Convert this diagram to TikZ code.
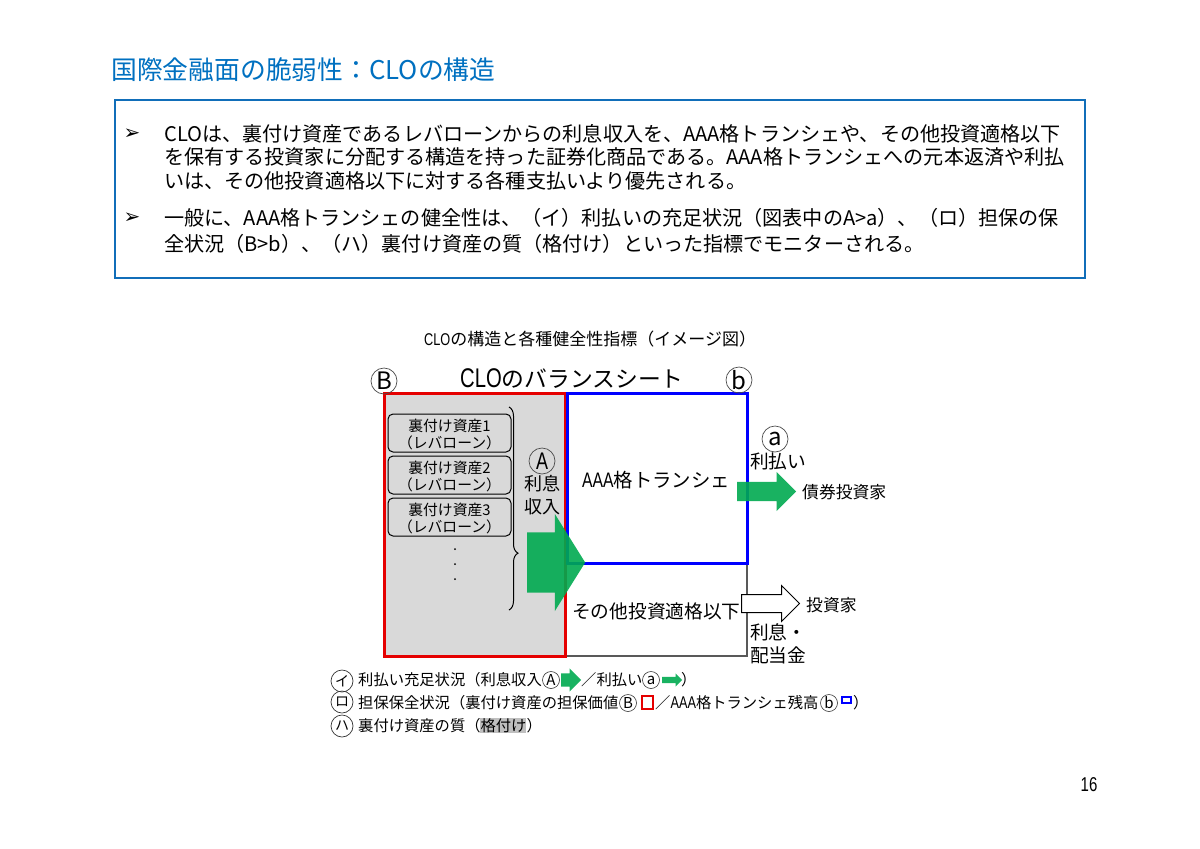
\documentclass[tikz,border=0pt]{standalone}
\usepackage{fontspec}
\setmainfont{Noto Sans CJK JP}
\newfontfamily\latn[FakeStretch=0.75]{Liberation Sans}
\newfontfamily\bulletfont{DejaVu Sans}
\newcommand{\fsz}[1]{\fontsize{#1}{#1}\selectfont}
\usetikzlibrary{shapes.arrows,positioning,decorations.pathreplacing}
\definecolor{titleblue}{RGB}{0,112,192}
\definecolor{boxblue}{RGB}{17,110,185}
\definecolor{paygreen}{RGB}{0,170,80}
\begin{document}
\begin{tikzpicture}
[x=1pt,y=-1pt,
%
lbl/.style={inner sep=0pt,anchor=west},
badge/.style={shape=circle,draw=black!70,line width=.7pt,minimum size=26pt,inner sep=0pt,font=\fsz{24}},
smallbadge/.style={shape=circle,draw=black!80,line width=.6pt,minimum size=17pt,inner sep=0pt,font=\fsz{15}},
legendmark/.style={shape=circle,draw=black!80,line width=.7pt,minimum size=22pt,inner sep=0pt,font=\fsz{14}},
asset/.style={shape=rectangle,rounded corners=5pt,draw=black,line width=1pt,minimum width=123pt,minimum height=38pt,inner sep=0pt,align=center},
greenarrow/.style={shape=single arrow,fill=paygreen,fill opacity=.9,anchor=tail,inner xsep=0pt,single arrow head indent=0pt},
whitearrow/.style={shape=single arrow,draw=black,fill=white,line width=1pt,anchor=tail,inner xsep=0pt,single arrow head indent=0pt}]
%
\useasboundingbox (0,0) rectangle (1200,849);
%
%% heading and summary box
\node (title) [lbl,text=titleblue,font=\fsz{25.8}] at (111,70) {国際金融面の脆弱性：CLOの構造};
\node (summary) [draw=boxblue,line width=2pt,minimum width=970pt,minimum height=178pt,inner sep=0pt] at (600,189) {};
\node (bullet1) [inner sep=0pt,font=\bulletfont\fsz{20}] at (132,134) {➢};
\node (bullet2) [inner sep=0pt,font=\bulletfont\fsz{20}] at (132,218) {➢};
\node (line1) [lbl,font=\fsz{20.1}] at (164,134) {CLOは、裏付け資産であるレバローンからの利息収入を、AAA格トランシェや、その他投資適格以下};
\node (line2) [lbl,font=\fsz{20.1}] at (164,157) {を保有する投資家に分配する構造を持った証券化商品である。AAA格トランシェへの元本返済や利払};
\node (line3) [lbl,font=\fsz{20.1}] at (164,181) {いは、その他投資適格以下に対する各種支払いより優先される。};
\node (line4) [lbl,font=\fsz{20.1}] at (164,218) {一般に、AAA格トランシェの健全性は、（イ）利払いの充足状況（図表中のA>a）、（ロ）担保の保};
\node (line5) [lbl,font=\fsz{20.1}] at (164,244) {全状況（B>b）、（ハ）裏付け資産の質（格付け）といった指標でモニターされる。};
%
%% balance sheet
\node (charttitle) [lbl,font=\fsz{17}] at (424,339.5) {{\latn CLO}の構造と各種健全性指標（イメージ図）};
\node (bstitle) [lbl,font=\fsz{22.8}] at (460,378.5) {{\latn\fsz{27}CLO}のバランスシート};
\draw[black!65,line width=1.5pt] (565,656) -- (747,656) -- (747,563);
\node (assets) [draw=red!90!black,fill=black!15,line width=3pt,minimum width=181pt,minimum height=263pt,inner sep=0pt] at (474.5,524.5) {};
\node (senior) [draw=blue,line width=3pt,minimum width=180pt,minimum height=170pt,inner sep=0pt] at (657,478) {};
%
%% assets
\foreach \x/\y in {1/433,2/475,3/517}
\node (asset\x) [asset] at (449.5,\y) {\fsz{14.8}\rule{0pt}{16pt}裏付け資産\x\\[2.5pt]\fsz{14.8}（レバローン）};
\foreach \y in {549,564,579}
\fill (455,\y) circle (1pt);
\draw[line width=1pt,decorate,decoration={brace,amplitude=9pt,aspect=.72}] (509,407) -- (509,610);
%
%% arrows
\node (incomearrow) [greenarrow,inner ysep=30pt,single arrow head extend=18.5pt,single arrow tip angle=116,minimum height=58pt] at (527,562.5) {};
\node (payarrow) [greenarrow,inner ysep=9.5pt,single arrow head extend=10pt,single arrow tip angle=90,minimum height=59pt] at (737,491.5) {};
\node (equityarrow) [whitearrow,inner ysep=8.5pt,single arrow head extend=9pt,single arrow tip angle=90,minimum height=58pt] at (741,603.5) {};
%
%% labels
\node (incA) [badge] at (542,461) {\latn\fsz{24}A};
\node (bigB) [badge] at (384,381) {B};
\node (smallb) [badge] at (739,380) {b};
\node (paya) [badge] at (775,439) {a};
\node (income1) [lbl,font=\fsz{18}] at (524,484) {利息};
\node (income2) [lbl,font=\fsz{18}] at (524,507) {収入};
\node (tranche) [lbl,font=\fsz{19.4}] at (582,480.5) {{\latn\fsz{21}AAA}格トランシェ};
\node (other) [lbl,font=\fsz{18.7}] at (572,611.5) {その他投資適格以下};
\node (pay) [lbl,font=\fsz{18.7}] at (750,461) {利払い};
\node (bondinv) [lbl,font=\fsz{16.8}] at (802,492) {債券投資家};
\node (inv) [lbl,font=\fsz{16.8}] at (806,605) {投資家};
\node (div1) [lbl,font=\fsz{18.7}] at (750,632) {利息・};
\node (div2) [lbl,font=\fsz{18.7}] at (750,655) {配当金};
%
%% legend
\node (markI) [legendmark] at (342,681) {イ};
\node (markRo) [legendmark] at (342,702) {ロ};
\node (markHa) [legendmark] at (342,726) {ハ};
\node (leg1) [lbl,font=\fsz{15.3}] at (358,680) {利払い充足状況（利息収入};
\node (legA) [smallbadge] at (551,680) {A};
\node (leggreen1) [greenarrow,inner ysep=6.5pt,single arrow head extend=5pt,single arrow tip angle=90,minimum height=20pt] at (561,680) {};
\node (leg1b) [lbl,font=\fsz{15.3}] at (581,680) {／利払い};
\node (lega) [smallbadge] at (651,680) {a};
\node (leggreen2) [greenarrow,inner ysep=3pt,single arrow head extend=3.5pt,single arrow tip angle=90,minimum height=20pt] at (662,680) {};
\node (leg1c) [lbl,font=\fsz{15.3}] at (681,680) {）};
\node (leg2) [lbl,font=\fsz{15.3}] at (358,703) {担保保全状況（裏付け資産の担保価値};
\node (legB) [smallbadge] at (628,703) {B};
\node (legred) [draw=red!90!black,line width=2pt,minimum width=11pt,minimum height=13pt,inner sep=0pt] at (647,702) {};
\node (leg2b) [lbl,font=\fsz{15.3}] at (655,703) {／{\latn\fsz{17}AAA}格トランシェ残高};
\node (legb) [smallbadge] at (829,703) {b};
\node (legblue) [draw=blue,line width=2pt,minimum width=9pt,minimum height=6pt,inner sep=0pt] at (846,700) {};
\node (leg2c) [lbl,font=\fsz{15.3}] at (853,703) {）};
\node (leghigh) [fill=black!25,minimum width=46pt,minimum height=15pt,inner sep=0pt] at (503,725) {};
\node (leg3) [lbl,font=\fsz{15.3}] at (358,726) {裏付け資産の質（格付け）};
%
\node (pageno) [inner sep=0pt,font=\latn\fsz{20}] at (1089,785) {16};
\end{tikzpicture}
\end{document}
